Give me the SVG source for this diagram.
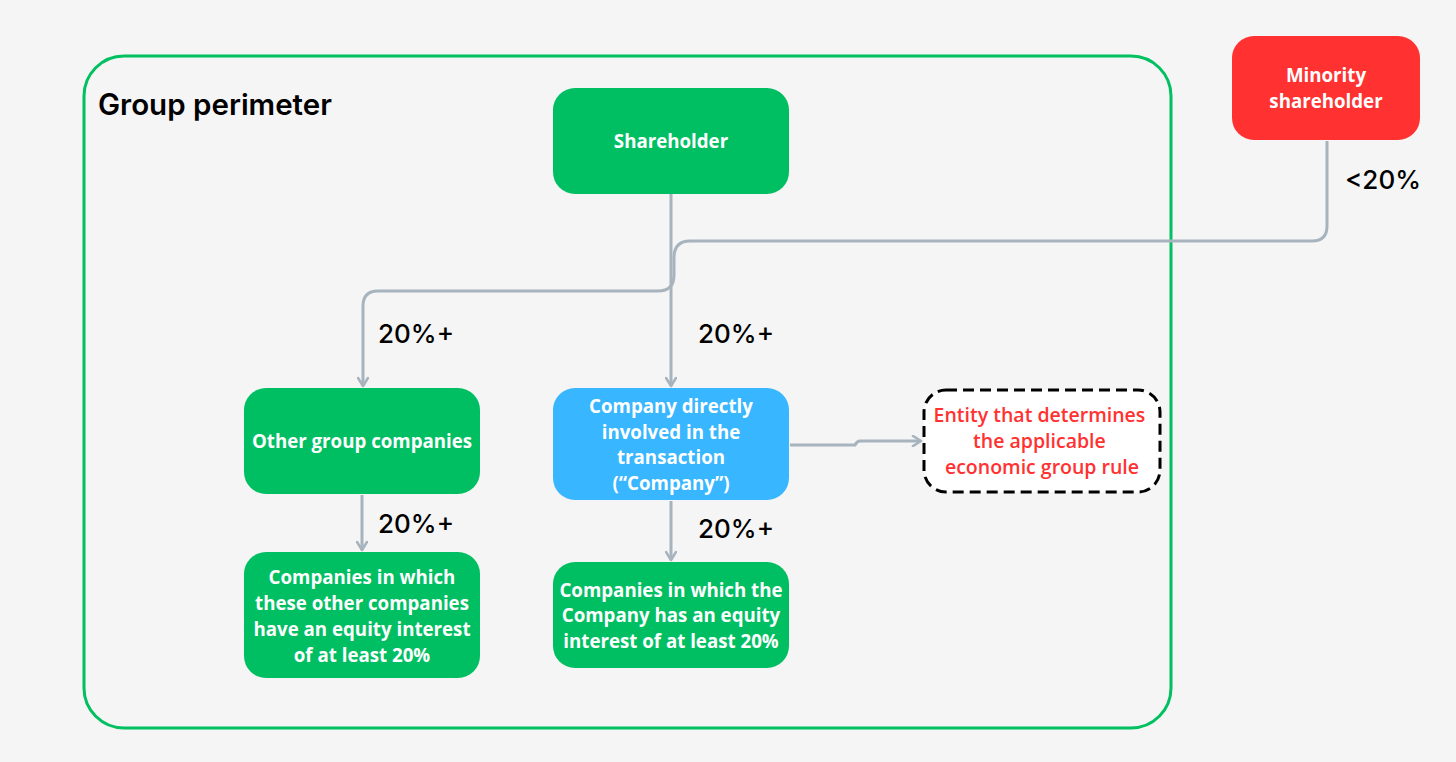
<svg xmlns="http://www.w3.org/2000/svg" width="1456" height="762" viewBox="0 0 1456 762">
<style>
.node text{font-family:"Open Sans",sans-serif;font-weight:700;font-size:18.7px;fill:#fff;text-anchor:middle}
.green{fill:#00BF63}
.lbl{font-family:Inter,"Open Sans",sans-serif;font-weight:500;font-size:26px;fill:#000}
.conn{fill:none;stroke:#A7B4BE;stroke-width:3}
</style>
<defs>
<marker id="arr" viewBox="0 0 12 12" refX="10" refY="6" markerWidth="12" markerHeight="12" markerUnits="userSpaceOnUse" orient="auto">
<polyline points="2,1 10,6 2,11" fill="none" stroke="#A7B4BE" stroke-width="2.6" stroke-linecap="round" stroke-linejoin="round"/>
</marker>
</defs>
<rect width="1456" height="762" fill="#F5F5F5"/>
<g id="perimeter">
<rect x="84" y="56" width="1087" height="672" rx="40" fill="none" stroke="#00C060" stroke-width="3"/>
<text x="98" y="115" font-family="Inter,'Open Sans',sans-serif" font-weight="600" font-size="29.5" fill="#000">Group perimeter</text>
</g>
<g id="connectors">
<path class="conn" d="M671 194 V386" marker-end="url(#arr)"/>
<path class="conn" d="M1327 141 V226 Q1327 241 1312 241 H690 Q674 241 674 258 V275 Q674 291 658 291 H378 Q363 291 363 306 V386" marker-end="url(#arr)"/>
<path class="conn" d="M362 495 V550" marker-end="url(#arr)"/>
<path class="conn" d="M671 501 V560" marker-end="url(#arr)"/>
<path class="conn" d="M790 445 H855 Q857 441 860 441 H921" marker-end="url(#arr)"/>
<text class="lbl" x="378" y="343">20%+</text>
<text class="lbl" x="698" y="343">20%+</text>
<text class="lbl" x="378" y="533">20%+</text>
<text class="lbl" x="698" y="538">20%+</text>
<text class="lbl" x="1345" y="189">&lt;20%</text>
</g>
<g id="shareholder" class="node">
<rect class="green" x="553" y="88" width="236" height="106" rx="22"/>
<text x="671" y="148">Shareholder</text>
</g>
<g id="minority" class="node">
<rect x="1232" y="36" width="188" height="104" rx="22" fill="#FF3131"/>
<text x="1326" y="82">Minority</text>
<text x="1326" y="108">shareholder</text>
</g>
<g id="other" class="node">
<rect class="green" x="244" y="388" width="236" height="106" rx="22"/>
<text x="362" y="448">Other group companies</text>
</g>
<g id="company" class="node">
<rect x="553" y="388" width="236" height="112" rx="22" fill="#38B6FF"/>
<text x="671" y="413">Company directly</text>
<text x="671" y="438.5">involved in the</text>
<text x="671" y="464">transaction</text>
<text x="671" y="489.5">(“Company”)</text>
</g>
<g id="entity">
<rect x="924" y="390" width="236" height="102" rx="22" fill="#fff" stroke="#000" stroke-width="3" stroke-dasharray="11 6"/>
<text font-family="'Open Sans',sans-serif" font-weight="600" font-size="19.5" fill="#FF3131" text-anchor="middle">
<tspan x="1042" y="422">Entity that determines</tspan>
<tspan x="1042" y="448">the applicable</tspan>
<tspan x="1042" y="474">economic group rule</tspan>
</text>
</g>
<g id="other-sub" class="node">
<rect class="green" x="244" y="552" width="236" height="126" rx="22"/>
<text x="362" y="583.5">Companies in which</text>
<text x="362" y="609.5">these other companies</text>
<text x="362" y="635.5">have an equity interest</text>
<text x="362" y="661.5">of at least 20%</text>
</g>
<g id="company-sub" class="node">
<rect class="green" x="553" y="562" width="236" height="106" rx="22"/>
<text x="671" y="596.5">Companies in which the</text>
<text x="671" y="622">Company has an equity</text>
<text x="671" y="647.5">interest of at least 20%</text>
</g>
</svg>
